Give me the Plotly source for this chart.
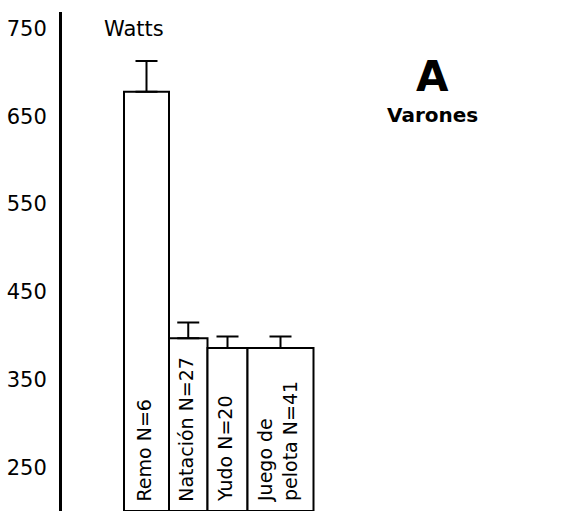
import plotly.graph_objects as go

# Peak power output (Watts) by sport, male athletes
sports = ["Remo N=6", "Natación N=27", "Yudo N=20", "Juego de<br>pelota N=41"]
watts = [678, 397, 386, 386]
watts_sd = [35, 18, 13, 13]
y_ticks = [250, 350, 450, 550, 650, 750]

# horizontal layout of the bars (x axis in plot units)
bar_left = [62, 107, 145.5, 185.5]
bar_width = [45, 38.5, 40, 66]
bar_center = [l + w / 2 for l, w in zip(bar_left, bar_width)]

FONT = "DejaVu Sans"
Y_MIN, Y_MAX = 200, 769
TOP_PX, PLOT_H = 12, 499


def paper_y(px):
    """Convert a pixel row in the figure to a paper y coordinate."""
    return 1 - (px - TOP_PX) / PLOT_H


fig = go.Figure()
fig.add_trace(go.Bar(
    x=bar_center,
    y=[v - Y_MIN for v in watts],
    base=Y_MIN,
    width=bar_width,
    marker=dict(color="white", line=dict(color="black", width=2)),
    error_y=dict(type="data", symmetric=False, array=watts_sd,
                 arrayminus=[0] * len(watts_sd),
                 color="black", thickness=2, width=11),
    hoverinfo="skip",
))

# rotated labels inside each bar
for xc, name in zip(bar_center, sports):
    fig.add_annotation(
        x=xc, y=Y_MIN, xref="x", yref="y",
        text=name, textangle=-90, showarrow=False,
        xanchor="center", yanchor="bottom", yshift=7, xshift=-3, align="left",
        font=dict(family=FONT, size=19, color="black"),
    )

fig.add_annotation(x=0.08, y=750, xref="paper", yref="y", text="Watts",
                   showarrow=False, xanchor="left", yanchor="middle",
                   font=dict(family=FONT, size=21, color="black"))
fig.add_annotation(x=0.738, y=paper_y(76), xref="paper", yref="paper",
                   text="<b>A</b>", showarrow=False,
                   xanchor="center", yanchor="middle",
                   font=dict(family=FONT, size=42, color="black"))
fig.add_annotation(x=0.738, y=paper_y(115), xref="paper", yref="paper",
                   text="<b>Varones</b>", showarrow=False,
                   xanchor="center", yanchor="middle",
                   font=dict(family=FONT, size=20, color="black"))

fig.update_layout(
    width=564, height=511,
    margin=dict(l=62, r=0, t=TOP_PX, b=0),
    paper_bgcolor="white", plot_bgcolor="white",
    showlegend=False,
    xaxis=dict(range=[0, 502], visible=False, fixedrange=True),
    yaxis=dict(range=[Y_MIN, Y_MAX], tickvals=y_ticks,
               ticktext=[str(t) for t in y_ticks],
               showgrid=False, zeroline=False,
               showline=True, linecolor="black", linewidth=3,
               ticks="", ticklabelstandoff=8,
               tickfont=dict(family=FONT, size=21, color="black")),
)

fig.write_html("out.html")
